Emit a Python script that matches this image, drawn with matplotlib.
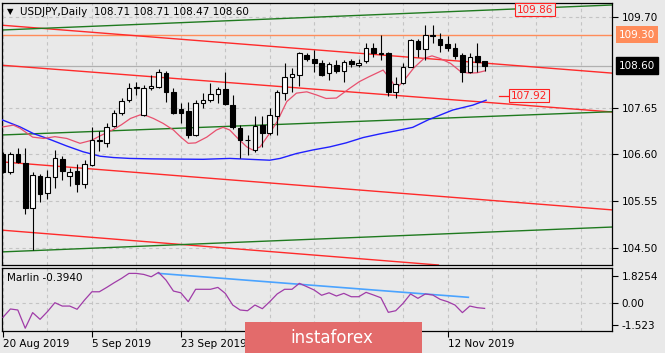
import numpy as np
import matplotlib
matplotlib.use("Agg")
import matplotlib.pyplot as plt
from matplotlib.patches import Rectangle

# daily candles, bar 0 = 20 Aug 2019 ... bar 65 = 19 Nov 2019
opens = [106.61, 106.21, 106.61, 106.41, 105.39, 106.11, 105.73, 106.10, 106.49, 106.11,
         106.23, 105.93, 106.36, 106.90, 106.86, 107.24, 107.53, 107.82, 108.09, 107.49,
         108.10, 108.12, 108.43, 108.01, 107.62, 107.58, 107.04, 107.75, 107.82, 107.95,
         108.07, 107.71, 107.19, 106.92, 106.70, 107.26, 107.08, 107.46, 107.98, 108.35,
         108.39, 108.85, 108.75, 108.67, 108.44, 108.61, 108.48, 108.70, 108.61, 108.70,
         109.00, 108.88, 108.89, 108.01, 108.21, 108.57, 109.15, 108.97, 109.30, 109.21,
         109.08, 108.99, 108.84, 108.45, 108.81, 108.71]
highs = [106.66, 106.66, 106.75, 106.74, 106.21, 106.17, 106.24, 106.70, 106.56, 106.30,
         106.38, 106.47, 107.22, 107.13, 107.30, 107.60, 107.86, 108.20, 108.24, 108.16,
         108.39, 108.52, 108.48, 108.09, 107.76, 107.79, 107.82, 107.98, 108.20, 108.12,
         108.46, 107.94, 107.26, 107.04, 107.46, 107.46, 107.64, 108.05, 108.65, 108.54,
         108.91, 108.89, 108.95, 108.73, 108.69, 108.73, 108.73, 108.74, 108.76, 109.10,
         109.10, 109.29, 108.91, 108.35, 108.65, 109.21, 109.21, 109.51, 109.51, 109.33,
         109.27, 109.11, 108.89, 108.89, 109.10, 108.71]
lows = [106.18, 106.17, 106.40, 105.26, 104.45, 105.52, 105.60, 105.84, 106.02, 105.89,
        105.76, 105.84, 106.34, 106.68, 106.76, 107.22, 107.49, 107.79, 107.94, 107.47,
        108.05, 108.09, 107.79, 107.51, 107.30, 106.96, 107.01, 107.64, 107.79, 107.75,
        107.71, 107.17, 106.51, 106.59, 106.66, 106.77, 107.04, 107.04, 107.82, 108.01,
        108.14, 108.71, 108.46, 108.37, 108.28, 108.43, 108.24, 108.57, 108.56, 108.66,
        108.80, 108.73, 107.91, 107.86, 108.18, 108.56, 108.80, 108.73, 109.10, 108.91,
        108.93, 108.76, 108.24, 108.44, 108.46, 108.47]
closes = [106.21, 106.61, 106.44, 105.39, 106.14, 105.71, 106.10, 106.51, 106.23, 106.20,
          105.93, 106.38, 106.92, 106.93, 107.22, 107.54, 107.81, 108.09, 108.11, 108.10,
          108.13, 108.45, 108.01, 107.54, 107.54, 107.04, 107.76, 107.82, 107.95, 108.07,
          107.73, 107.21, 106.92, 106.93, 107.24, 107.08, 107.49, 108.01, 108.35, 108.40,
          108.88, 108.76, 108.65, 108.39, 108.63, 108.48, 108.69, 108.63, 108.66, 108.99,
          108.89, 108.86, 108.01, 108.18, 108.57, 109.18, 108.97, 109.29, 109.27, 109.06,
          109.00, 108.82, 108.45, 108.80, 108.69, 108.60]

# moving averages (bar position, price)
ma_fast_x = [0, 1.4, 2.3, 4, 5.5, 7, 8.6, 10.4, 12, 13, 15, 16, 17.2, 18.5, 19.4, 20.3,
             21.6, 23, 24, 25, 26, 27.5, 28.8, 29.7, 30.6, 31.7, 32.9, 33.7, 34.7, 36,
             37, 38.3, 39.6, 41, 42.3, 43.6, 45, 45.9, 46.8, 48.1, 49.4, 51.3, 52.2,
             53.1, 54, 55.4, 56.8, 57.9, 59, 60.4, 61.8, 62.9, 64, 65]
ma_fast_y = [107.22, 107.26, 107.19, 106.99, 106.96, 107.00, 106.96, 106.85, 106.92,
             107.01, 107.17, 107.27, 107.41, 107.49, 107.47, 107.41, 107.30, 107.15,
             106.99, 106.85, 106.86, 106.99, 107.15, 107.21, 107.15, 106.96, 106.77,
             106.70, 106.77, 107.08, 107.34, 107.79, 107.98, 108.01, 107.94, 107.86,
             107.87, 107.98, 108.09, 108.24, 108.35, 108.50, 108.31, 108.09, 108.24,
             108.54, 108.76, 108.82, 108.76, 108.65, 108.46, 108.43, 108.44, 108.48]
ma_slow_x = [-0.3, 2.3, 4.1, 6.3, 8.6, 10.8, 13.1, 14.9, 17.1, 20, 27, 30.6, 36, 37.4,
             39.6, 41.8, 44.1, 46.3, 48.6, 50.8, 53, 55.3, 57.4, 60.7, 63.4, 65.2]
ma_slow_y = [107.39, 107.22, 107.07, 106.94, 106.79, 106.66, 106.56, 106.53, 106.51,
             106.50, 106.49, 106.51, 106.47, 106.51, 106.62, 106.70, 106.77, 106.86,
             106.98, 107.06, 107.13, 107.21, 107.38, 107.60, 107.71, 107.82]

# trend lines: (bar, price) at two anchor points
red_lines = [[(0, 109.508), (80, 108.46)],
             [(0, 108.607), (80, 107.584)],
             [(0, 106.43), (80, 105.38)],
             [(0, 104.893), (40, 104.36)]]
green_lines = [[(0, 109.403), (80, 109.95)],
               [(0, 107.039), (80, 107.548)],
               [(0, 104.406), (80, 104.95)]]
level_line = 109.30
last_price = 108.60

# Marlin oscillator
marlin = [-1.00, -0.43, -0.50, -1.75, -0.68, -1.14, -0.61, 0.00, -0.23, -0.23,
          -0.45, 0.18, 0.75, 0.75, 1.05, 1.37, 1.67, 2.01, 2.01, 1.94,
          1.78, 2.08, 1.55, 0.80, 0.68, 0.07, 0.92, 0.92, 0.92, 1.05,
          0.64, -0.16, -0.50, -0.55, -0.16, -0.41, 0.07, 0.60, 0.92, 0.92,
          1.33, 1.10, 0.87, 0.51, 0.68, 0.46, 0.64, 0.41, 0.41, 0.71,
          0.53, 0.34, -0.66, -0.55, -0.04, 0.60, 0.30, 0.60, 0.53, 0.23,
          0.07, -0.16, -0.68, -0.23, -0.34, -0.39]
marlin_trend_x = [21, 62.8]
marlin_trend_y = [2.01, 0.37]

price_ticks = [109.70, 107.65, 106.60, 105.55, 104.50]
marlin_ticks = [1.8254, 0.0, -1.523]
marlin_labels = ["1.8254", "0.00", "-1.523"]
date_bars = [0, 12, 24, 60]
date_labels = ["20 Aug 2019", "5 Sep 2019", "23 Sep 2019", "12 Nov 2019"]

bg = "#e9e9e9"
grid_c = "#c4c4c4"
fs = 7.5
plt.rcParams["font.family"] = "DejaVu Sans"

W, H = 665, 353
fig = plt.figure(figsize=(W / 100, H / 100), dpi=100, facecolor=bg)


def px_axes(x0, y0, x1, y1):
    a = fig.add_axes([x0 / W, 1 - y1 / H, (x1 - x0) / W, (y1 - y0) / H])
    a.set_facecolor(bg)
    for s in a.spines.values():
        s.set_linewidth(0.9)
    return a


ax = px_axes(2, 3, 612, 265)
ax2 = px_axes(2, 268.3, 612, 330.7)
xlim = (-0.135, 82.19)

# ---- main panel
ax.set_xlim(*xlim)
ax.set_ylim(104.11, 110.01)
for g in range(0, 82, 6):
    ax.axvline(g, color=grid_c, lw=0.8, ls=(0, (3, 3)), zorder=0)
    ax2.axvline(g, color=grid_c, lw=0.8, ls=(0, (3, 3)), zorder=0)
for t in price_ticks:
    ax.axhline(t, color=grid_c, lw=0.8, ls=(0, (3, 3)), zorder=0)

ax.axhline(last_price, color="#b0b0b0", lw=0.9, zorder=1)
ax.axhline(level_line, color="#ff8c5a", lw=1.0, zorder=2)
for (p1, p2) in red_lines:
    ax.axline(p1, p2, color="#ff2a2a", lw=1.0, zorder=2)
for (p1, p2) in green_lines:
    ax.axline(p1, p2, color="#1f7a1f", lw=1.0, zorder=2)

ax.plot(ma_slow_x, ma_slow_y, color="#2020ff", lw=1.0, zorder=3)
ax.plot(ma_fast_x, ma_fast_y, color="#e8506e", lw=0.9, zorder=3)

bars = np.arange(len(opens))
o = np.array(opens)
c = np.array(closes)
up = c >= o
ax.vlines(bars, lows, highs, color="black", lw=0.8, zorder=5)
ax.bar(bars, np.maximum(np.abs(c - o), 0.006), bottom=np.minimum(o, c), width=0.62,
       color=np.where(up, "white", "black"), edgecolor="black", linewidth=0.8, zorder=6)

ax.set_xticks([])
ax.yaxis.tick_right()
ax.set_yticks(price_ticks)
ax.set_yticklabels([f"{t:.2f}" for t in price_ticks])
ax.tick_params(axis="y", direction="out", length=4, width=0.8, pad=3, labelsize=fs)

ytr = ax.get_yaxis_transform()
ax.text(1.011, level_line, "109.30", transform=ytr, ha="left", va="center", fontsize=fs,
        color="white", bbox=dict(boxstyle="square,pad=0.3", fc="#ff8c5a", ec="none"))
ax.text(1.011, last_price, "108.60", transform=ytr, ha="left", va="center", fontsize=fs,
        color="white", bbox=dict(boxstyle="square,pad=0.3", fc="black", ec="black"))

ax.text(71.8, 109.86, "109.86", ha="center", va="center", fontsize=fs, color="#ff2020",
        zorder=8, bbox=dict(boxstyle="square,pad=0.15", fc=bg, ec="#ff2020", lw=0.8))
ax.plot([66.9, 68.2], [107.92, 107.92], color="#ff2020", lw=0.9, zorder=8)
ax.text(71.0, 107.92, "107.92", ha="center", va="center", fontsize=fs, color="#ff2020",
        zorder=8, bbox=dict(boxstyle="square,pad=0.15", fc=bg, ec="#ff2020", lw=0.8))

ax.text(0.008, 0.966, "\u25bc", transform=ax.transAxes, ha="left", va="center", fontsize=6)
ax.text(0.0295, 0.966, "USDJPY,Daily  108.71 108.71 108.47 108.60", transform=ax.transAxes,
        ha="left", va="center", fontsize=fs)

# ---- Marlin panel
ax2.set_xlim(*xlim)
ax2.set_ylim(-1.92, 2.36)
ax2.axhline(0, color=grid_c, lw=0.8, ls=(0, (3, 3)), zorder=0)
ax2.plot(marlin_trend_x, marlin_trend_y, color="#4aa3ff", lw=1.2, zorder=2)
ax2.plot(bars, marlin, color="#a03ca8", lw=0.9, zorder=3)
ax2.text(0.008, 0.84, "Marlin -0.3940", transform=ax2.transAxes, ha="left", va="center",
         fontsize=fs)
ax2.yaxis.tick_right()
ax2.set_yticks(marlin_ticks)
ax2.set_yticklabels(marlin_labels)
ax2.tick_params(axis="y", direction="out", length=4, width=0.8, pad=3, labelsize=fs)
ax2.set_xticks(date_bars)
ax2.set_xticklabels(date_labels, ha="left")
ax2.tick_params(axis="x", direction="out", length=4, width=0.8, pad=2, labelsize=fs)

# watermark
fig.patches.append(Rectangle((245 / W, 0), 177 / W, 31.5 / H, transform=fig.transFigure,
                             fc="#e36b6b", ec="none", zorder=20))
fig.text(290 / W, 9.7 / H, "instaforex", color="white", fontsize=12, ha="left",
         va="baseline", zorder=21)

fig.savefig("out.png", dpi=100, facecolor=bg)
